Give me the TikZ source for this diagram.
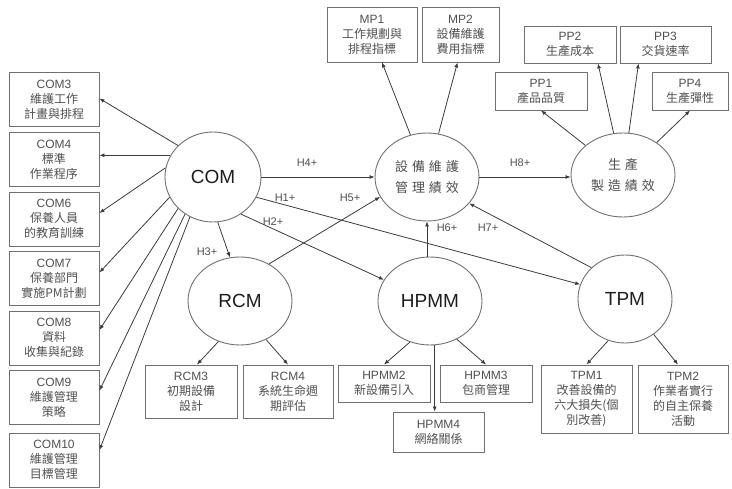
\documentclass[tikz,border=0pt]{standalone}
\usepackage{fontspec}
\setmainfont{Liberation Sans}
\newfontfamily\cjk{Noto Sans CJK TC}
\newfontfamily\cjksp[LetterSpace=30]{Noto Sans CJK TC}
\newcommand\zht[1]{{\cjk #1}}
\usetikzlibrary{shapes.geometric,arrows.meta}

\definecolor{linecol}{HTML}{3C3C3C}
\definecolor{boxcol}{HTML}{707070}
\definecolor{txtcol}{HTML}{505050}
\definecolor{bigcol}{HTML}{1E1E1E}

\tikzset{
  box/.style={draw=boxcol, line width=0.9pt, text=txtcol, align=center,
    inner sep=1pt, font=\fontsize{12}{15}\selectfont},
  ell/.style={ellipse, draw=boxcol, line width=0.9pt, fill=white, inner sep=0pt,
    align=center},
  big/.style={font=\fontsize{19}{22}\selectfont, text=bigcol},
  perf/.style={font=\cjksp\fontsize{13}{21}\selectfont, text=txtcol},
  arr/.style={draw=linecol, line width=0.8pt, -{Latex[length=5pt,width=4pt]}},
  hl/.style={font=\fontsize{11}{13}\selectfont, text=txtcol, inner sep=0pt}
}

\begin{document}
\begin{tikzpicture}[x=1pt,y=-1pt]
\useasboundingbox (0,0) rectangle (732,489);

% left column: COM indicators
\node[box, minimum width=90pt, minimum height=54pt] (c3)  at (54,99.5)  {COM3\\\zht{維護工作}\\\zht{計畫與排程}};
\node[box, minimum width=90pt, minimum height=54pt] (c4)  at (54,159.5) {COM4\\\zht{標準}\\\zht{作業程序}};
\node[box, minimum width=90pt, minimum height=54pt] (c6)  at (54,219)   {COM6\\\zht{保養人員}\\\zht{的教育訓練}};
\node[box, minimum width=90pt, minimum height=54pt] (c7)  at (54,278.5) {COM7\\\zht{保養部門}\\\zht{實施PM計劃}};
\node[box, minimum width=90pt, minimum height=54pt] (c8)  at (54,338)   {COM8\\\zht{資料}\\\zht{收集與紀錄}};
\node[box, minimum width=90pt, minimum height=54pt] (c9)  at (54,397.5) {COM9\\\zht{維護管理}\\\zht{策略}};
\node[box, minimum width=90pt, minimum height=54pt] (c10) at (54,460)   {COM10\\\zht{維護管理}\\\zht{目標管理}};

% maintenance performance indicators
\node[box, minimum width=90pt, minimum height=55pt] (mp1) at (372,34.5)   {MP1\\\zht{工作規劃與}\\\zht{排程指標}};
\node[box, minimum width=77pt, minimum height=55pt] (mp2) at (460.5,34.5) {MP2\\\zht{設備維護}\\\zht{費用指標}};

% production performance indicators
\node[box, minimum width=92pt, minimum height=37pt] (pp2) at (570,44.5)   {PP2\\\zht{生產成本}};
\node[box, minimum width=91pt, minimum height=37pt] (pp3) at (665.5,44.5) {PP3\\\zht{交貨速率}};
\node[box, minimum width=92pt, minimum height=38pt] (pp1) at (541,91)     {PP1\\\zht{產品品質}};
\node[box, minimum width=76pt, minimum height=38pt] (pp4) at (690,91)     {PP4\\\zht{生產彈性}};

% bottom row indicators
\node[box, minimum width=92pt, minimum height=53pt] (rcm3)  at (191,391.5) {RCM3\\\zht{初期設備}\\\zht{設計}};
\node[box, minimum width=90pt, minimum height=53pt] (rcm4)  at (288,391.5) {RCM4\\\zht{系統生命週}\\\zht{期評估}};
\node[box, minimum width=92pt, minimum height=37pt] (hpmm2) at (384,383.5) {HPMM2\\\zht{新設備引入}};
\node[box, minimum width=92pt, minimum height=37pt] (hpmm3) at (486,383.5) {HPMM3\\\zht{包商管理}};
\node[box, minimum width=91pt, minimum height=40pt] (hpmm4) at (438.5,432) {HPMM4\\\zht{網絡關係}};
\node[box, minimum width=91pt, minimum height=68pt] (tpm1)  at (586.5,399) {TPM1\\\zht{改善設備的}\\\zht{六大損失(個}\\\zht{別改善)}};
\node[box, minimum width=90pt, minimum height=68pt] (tpm2)  at (683,399)   {TPM2\\\zht{作業者實行}\\\zht{的自主保養}\\\zht{活動}};

% constructs
\node[ell, big, minimum width=96pt,  minimum height=90pt] (com)  at (213,177) {COM};
\node[ell, perf, minimum width=104pt, minimum height=88pt] (mpe) at (427,177) {設備維護\\管理績效};
\node[ell, perf, minimum width=104pt, minimum height=84pt] (ppe) at (623,175) {生產\\製造績效};
\node[ell, big, minimum width=104pt, minimum height=88pt] (rcm)  at (240,301) {RCM};
\node[ell, big, minimum width=104pt, minimum height=88pt] (hpmm) at (430,301) {HPMM};
\node[ell, big, minimum width=94pt,  minimum height=88pt] (tpm)  at (625,299) {TPM};

% COM to its indicators
\draw[arr] (com.138) -- ([yshift=1pt]c3.east);
\draw[arr] (com.153) -- (com.153 -| c4.east);
\draw[arr] (com.169) -- ([yshift=6pt]c6.east);
\draw[arr] (com.205) -- ([yshift=6pt]c7.east);
\draw[arr] (com.222) -- ([yshift=8pt]c8.east);
\draw[arr] (com.233) -- ([yshift=7pt]c9.east);
\draw[arr] (com.240) -- ([yshift=10pt]c10.east);

% performance constructs to their indicators
\draw[arr] (mpe) -- ([xshift=10pt]mp1.south);
\draw[arr] (mpe) -- ([xshift=-3pt]mp2.south);
\draw[arr] (ppe) -- (pp1.south);
\draw[arr] (ppe) -- ([xshift=28pt]pp2.south);
\draw[arr] (ppe) -- ([xshift=-27pt]pp3.south);
\draw[arr] (ppe) -- (pp4.south);

% bottom constructs to their indicators
\draw[arr] (rcm.-118) -- ([xshift=6pt]rcm3.north);
\draw[arr] (rcm.-56) -- (rcm4.north);
\draw[arr] (hpmm.-116) -- (hpmm2.north);
\draw[arr] (hpmm.-55) -- (hpmm3.north);
\draw[arr] (hpmm.-84) -- (hpmm.-84 |- hpmm4.north);
\draw[arr] (tpm.-112) -- (tpm1.north);
\draw[arr] (tpm.-51) -- ([xshift=-5pt]tpm2.north);

% hypotheses
\draw[arr] (com.east) -- (com.east -| mpe.west);
\draw[arr] (mpe.east) -- (mpe.east -| ppe.west);
\draw[arr] (com.-25) -- (tpm.162);
\draw[arr] (com.-53) -- (hpmm);
\draw[arr] (com.-84) -- (rcm.103);
\draw[arr] (rcm.52) -- (mpe.203);
\draw[arr] (hpmm.north -| mpe.south) -- (mpe.south);
\draw[arr] (tpm.137) -- (mpe.-32);

\node[hl] (h4) at (307,163) {H4+};
\node[hl] (h8) at (520,163) {H8+};
\node[hl] (h1) at (285,198) {H1+};
\node[hl] (h5) at (350,198) {H5+};
\node[hl] (h2) at (273,222) {H2+};
\node[hl] (h3) at (207,252) {H3+};
\node[hl] (h6) at (447,228) {H6+};
\node[hl] (h7) at (488,228) {H7+};
\end{tikzpicture}
\end{document}
